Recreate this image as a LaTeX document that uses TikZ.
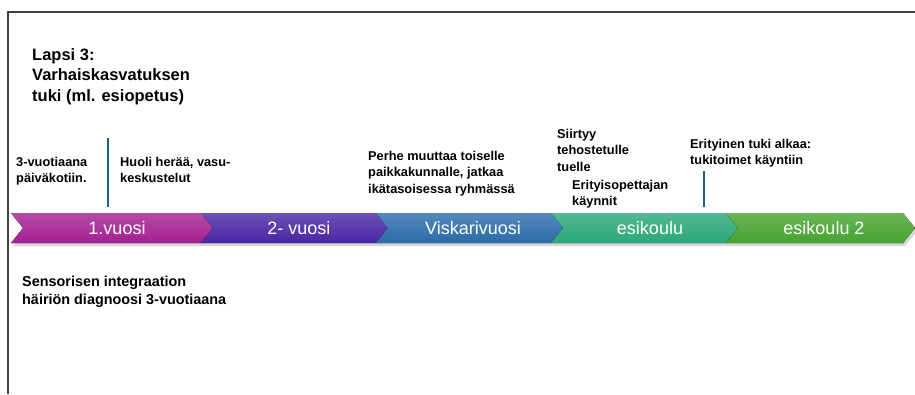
\documentclass[tikz,border=0pt]{standalone}
\usepackage{fontspec}
\setmainfont{Liberation Sans}
\usepackage{tikz}

\definecolor{cMag}{HTML}{A31F90}
\definecolor{cPur}{HTML}{4A25A4}
\definecolor{cBlu}{HTML}{2A6BA8}
\definecolor{cTea}{HTML}{2AA777}
\definecolor{cGrn}{HTML}{45A32E}
\definecolor{cMark}{HTML}{1F5E86}

\begin{document}
\begin{tikzpicture}[
x=1pt,y=-1pt,
note/.style={%
anchor=north west,
align=left,
inner sep=0pt,
font=\fontsize{12.8}{16.5}\selectfont\bfseries
},
phase/.style={%
text=white,
font=\fontsize{18}{20}\selectfont
},
marker/.style={%
draw=cMark,
line width=1.2pt
},
shade/.style={%
fill=black!45,
opacity=0.35
}
]
\useasboundingbox(0,0)rectangle(915,394);
%% Frame
\draw[line width=1.2pt,black!75](8,394)--(8,12)--(915,12);
%% Title
\node[note,font=\fontsize{16.5}{20.5}\selectfont\bfseries]at(32,48)(title){Lapsi 3:\\Varhaiskasvatuksen\\tuki (ml. esiopetus)};
%% Shadows
\fill[shade](13,216)--(203,216)--(215,231)--(203,246)--(13,246)--(25,231)--cycle;
\fill[shade](203,216)--(378,216)--(390,231)--(378,246)--(203,246)--(215,231)--cycle;
\fill[shade](378,216)--(553,216)--(565,231)--(553,246)--(378,246)--(390,231)--cycle;
\fill[shade](553,216)--(728,216)--(740,231)--(728,246)--(553,246)--(565,231)--cycle;
\fill[shade](728,216)--(905,216)--(917,231)--(905,246)--(728,246)--(740,231)--cycle;
%% Chevrons
\fill[top color=cMag!80!white,bottom color=cMag](11,213)--(201,213)--(213,228)--(201,243)--(11,243)--(23,228)--cycle;
\fill[top color=cPur!80!white,bottom color=cPur](201,213)--(376,213)--(388,228)--(376,243)--(201,243)--(213,228)--cycle;
\fill[top color=cBlu!80!white,bottom color=cBlu](376,213)--(551,213)--(563,228)--(551,243)--(376,243)--(388,228)--cycle;
\fill[top color=cTea!80!white,bottom color=cTea](551,213)--(726,213)--(738,228)--(726,243)--(551,243)--(563,228)--cycle;
\fill[top color=cGrn!80!white,bottom color=cGrn](726,213)--(903,213)--(915,228)--(903,243)--(726,243)--(738,228)--cycle;
\node[phase]at(117,228)(y1){1.vuosi};
\node[phase]at(299,228)(y2){2- vuosi};
\node[phase]at(473,228)(visk){Viskarivuosi};
\node[phase]at(650,228)(eska){esikoulu};
\node[phase]at(824,228)(eska2){esikoulu 2};
%% Events above
\node[note]at(16,157)(start){3-vuotiaana\\päiväkotiin.};
\node[note]at(120,157)(huoli){Huoli herää, vasu-\\keskustelut};
\node[note]at(368,151)(muutto){Perhe muuttaa toiselle\\paikkakunnalle, jatkaa\\ikätasoisessa ryhmässä};
\node[note]at(557,129)(tehos){Siirtyy\\tehostetulle\\tuelle};
\node[note]at(572,180)(veo){Erityisopettajan\\käynnit};
\node[note]at(690,139)(erity){Erityinen tuki alkaa:\\tukitoimet käyntiin};
%% Markers
\coordinate(m1top)at(108,138);
\coordinate(m1bot)at(108,207);
\draw[marker](m1top)--(m1bot);
\coordinate(m2top)at(704,171);
\coordinate(m2bot)at(704,207);
\draw[marker](m2top)--(m2bot);
%% Event below
\node[note,font=\fontsize{14.4}{18}\selectfont\bfseries]at(22,276)(diag){Sensorisen integraation\\häiriön diagnoosi 3-vuotiaana};
\end{tikzpicture}
\end{document}
